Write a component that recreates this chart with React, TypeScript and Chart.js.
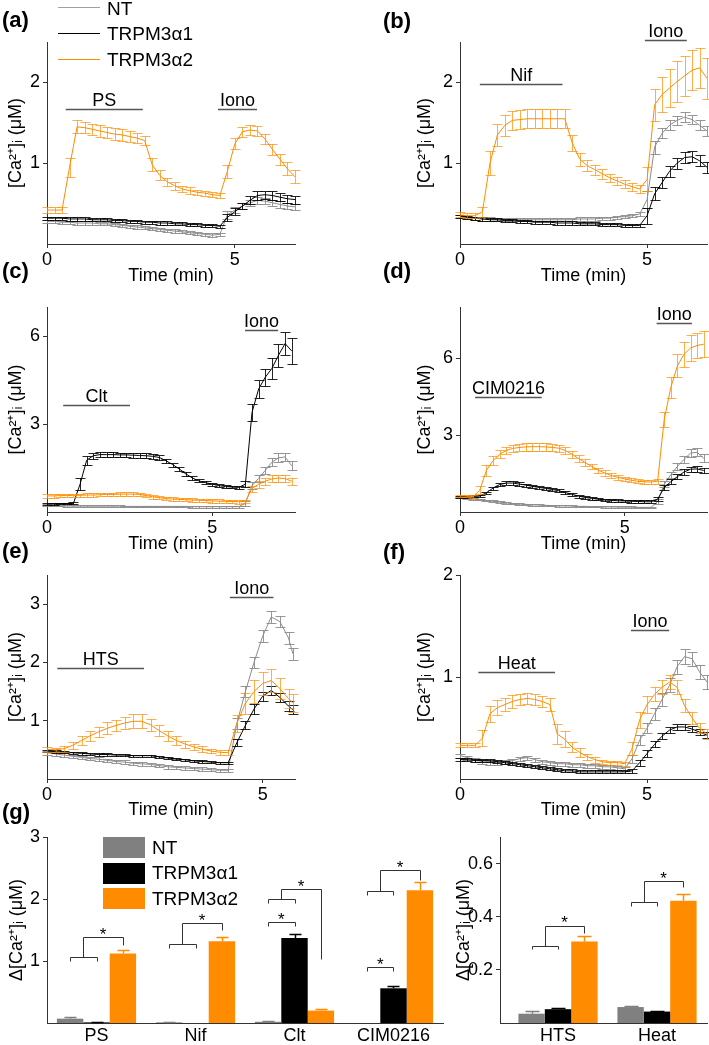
import React, { useEffect, useRef } from "react";
import { Chart, registerables } from "chart.js";

Chart.register(...registerables);

const FONT = '"Liberation Sans", Arial, Helvetica, sans-serif';
const SERIES = ["NT", "TRPM3α1", "TRPM3α2"];
const CA_LABEL = "[Ca²⁺]ᵢ (μM)";
const DCA_LABEL = "Δ[Ca²⁺]ᵢ (μM)";
const TIME_LABEL = "Time (min)";

// ---------- time grids (min) ----------
const T66 = [0,0.2,0.4,0.6,0.8,1,1.2,1.4,1.6,1.8,2,2.2,2.4,2.6,2.8,3,3.2,3.4,3.6,3.8,4,4.2,4.4,4.6,4.8,5,5.2,5.4,5.6,5.8,6,6.2,6.4,6.6];
const T74 = [0,0.2,0.4,0.6,0.8,1,1.2,1.4,1.6,1.8,2,2.2,2.4,2.6,2.8,3,3.2,3.4,3.6,3.8,4,4.2,4.4,4.6,4.8,5,5.2,5.4,5.6,5.8,6,6.2,6.4,6.6,6.8,7,7.2,7.4];
const T57 = [0,0.2,0.4,0.6,0.8,1,1.2,1.4,1.6,1.8,2,2.2,2.4,2.6,2.8,3,3.2,3.4,3.6,3.8,4,4.2,4.4,4.6,4.8,5,5.2,5.4,5.6,5.7];

// ---------- (a) PS ----------
const A_NT = [0.28,0.28,0.27,0.27,0.26,0.26,0.26,0.25,0.25,0.24,0.23,0.22,0.21,0.2,0.19,0.18,0.17,0.16,0.15,0.14,0.13,0.12,0.11,0.12,0.36,0.42,0.47,0.51,0.54,0.53,0.51,0.49,0.47,0.46];
const A_NT_E = [0.02,0.02,0.02,0.02,0.02,0.02,0.02,0.02,0.02,0.02,0.02,0.02,0.02,0.02,0.02,0.02,0.02,0.02,0.02,0.02,0.02,0.02,0.02,0.02,0.05,0.04,0.04,0.04,0.04,0.04,0.04,0.04,0.04,0.04];
const A_A1 = [0.32,0.32,0.32,0.31,0.31,0.31,0.3,0.3,0.3,0.29,0.29,0.28,0.28,0.27,0.27,0.26,0.26,0.25,0.25,0.24,0.24,0.23,0.23,0.22,0.33,0.4,0.47,0.54,0.6,0.61,0.6,0.58,0.56,0.55];
const A_A1_E = [0.02,0.02,0.02,0.02,0.02,0.02,0.02,0.02,0.02,0.02,0.02,0.02,0.02,0.02,0.02,0.02,0.02,0.02,0.02,0.02,0.02,0.02,0.02,0.02,0.04,0.04,0.04,0.05,0.05,0.05,0.05,0.05,0.05,0.05];
const A_A2 = [0.42,0.42,0.42,0.95,1.45,1.44,1.42,1.4,1.38,1.36,1.35,1.33,1.31,1.28,0.98,0.85,0.77,0.72,0.68,0.66,0.64,0.63,0.61,0.6,0.9,1.24,1.39,1.41,1.4,1.3,1.17,1.05,0.93,0.83];
const A_A2_E = [0.04,0.04,0.04,0.12,0.08,0.07,0.07,0.07,0.07,0.07,0.07,0.07,0.06,0.06,0.08,0.06,0.05,0.05,0.04,0.04,0.03,0.03,0.03,0.03,0.08,0.07,0.06,0.06,0.06,0.06,0.07,0.07,0.08,0.08];

// ---------- (b) Nif ----------
const B_NT = [0.34,0.33,0.32,0.31,0.31,0.3,0.3,0.3,0.3,0.3,0.3,0.3,0.3,0.3,0.3,0.3,0.31,0.31,0.31,0.32,0.32,0.33,0.34,0.35,0.37,0.55,1.2,1.37,1.47,1.53,1.57,1.54,1.47,1.4];
const B_NT_E = [0.02,0.02,0.02,0.02,0.02,0.02,0.02,0.02,0.02,0.02,0.02,0.02,0.02,0.02,0.02,0.02,0.02,0.02,0.02,0.02,0.02,0.02,0.02,0.02,0.02,0.1,0.08,0.06,0.06,0.06,0.06,0.06,0.06,0.06];
const B_A1 = [0.34,0.33,0.32,0.31,0.3,0.3,0.29,0.29,0.28,0.28,0.27,0.27,0.27,0.26,0.26,0.26,0.25,0.25,0.25,0.24,0.24,0.24,0.23,0.23,0.23,0.35,0.62,0.76,0.9,1.0,1.07,1.08,1.03,0.95];
const B_A1_E = [0.02,0.02,0.02,0.02,0.02,0.02,0.02,0.02,0.02,0.02,0.02,0.02,0.02,0.02,0.02,0.02,0.02,0.02,0.02,0.02,0.02,0.02,0.02,0.02,0.02,0.1,0.08,0.07,0.07,0.07,0.07,0.07,0.07,0.07];
const B_A2 = [0.36,0.35,0.35,0.4,1.0,1.35,1.47,1.53,1.54,1.55,1.55,1.55,1.55,1.55,1.55,1.25,1.05,0.97,0.92,0.87,0.82,0.78,0.74,0.71,0.68,0.8,1.72,1.85,1.93,2.01,2.08,2.15,2.18,2.05];
const B_A2_E = [0.03,0.03,0.03,0.06,0.15,0.14,0.13,0.12,0.12,0.12,0.12,0.12,0.12,0.12,0.12,0.1,0.08,0.07,0.06,0.06,0.05,0.05,0.05,0.05,0.05,0.15,0.2,0.22,0.24,0.25,0.25,0.25,0.25,0.25];

// ---------- (c) Clt ----------
const C_NT = [0.24,0.23,0.22,0.21,0.2,0.2,0.2,0.2,0.2,0.2,0.2,0.2,0.19,0.19,0.19,0.19,0.19,0.19,0.19,0.19,0.19,0.19,0.18,0.18,0.18,0.18,0.18,0.18,0.18,0.18,0.3,0.9,1.15,1.42,1.7,1.85,1.88,1.58];
const C_NT_E = [0.03,0.03,0.03,0.03,0.03,0.03,0.03,0.03,0.03,0.03,0.03,0.03,0.03,0.03,0.03,0.03,0.03,0.03,0.03,0.03,0.03,0.03,0.03,0.03,0.03,0.03,0.03,0.03,0.03,0.03,0.08,0.12,0.12,0.13,0.14,0.15,0.15,0.15];
const C_A1 = [0.27,0.28,0.29,0.29,0.3,0.95,1.77,1.92,1.96,1.96,1.96,1.95,1.95,1.94,1.93,1.92,1.9,1.86,1.75,1.62,1.47,1.3,1.16,1.06,1.0,0.95,0.9,0.87,0.85,0.84,0.95,3.4,4.2,4.6,4.9,5.35,5.75,5.5];
const C_A1_E = [0.03,0.03,0.03,0.03,0.04,0.2,0.15,0.1,0.08,0.08,0.08,0.08,0.08,0.08,0.08,0.08,0.08,0.08,0.07,0.07,0.07,0.06,0.06,0.05,0.05,0.05,0.04,0.04,0.04,0.04,0.1,0.3,0.3,0.3,0.35,0.4,0.4,0.45];
const C_A2 = [0.55,0.55,0.56,0.56,0.57,0.57,0.58,0.58,0.59,0.6,0.6,0.61,0.61,0.61,0.6,0.56,0.52,0.49,0.46,0.44,0.43,0.42,0.41,0.4,0.39,0.38,0.37,0.36,0.36,0.35,0.36,0.8,0.95,1.05,1.13,1.16,1.14,1.05];
const C_A2_E = [0.06,0.06,0.06,0.06,0.06,0.06,0.06,0.06,0.06,0.06,0.06,0.06,0.06,0.06,0.06,0.06,0.06,0.06,0.06,0.06,0.06,0.06,0.06,0.06,0.06,0.06,0.06,0.06,0.06,0.06,0.06,0.1,0.12,0.12,0.12,0.12,0.12,0.12];

// ---------- (d) CIM0216 ----------
const D_NT = [0.56,0.54,0.51,0.48,0.45,0.42,0.39,0.36,0.33,0.31,0.3,0.28,0.27,0.26,0.25,0.24,0.24,0.23,0.22,0.22,0.21,0.21,0.2,0.2,0.19,0.19,0.19,0.18,0.18,0.18,0.4,1.08,1.45,1.78,2.05,2.3,2.33,2.1];
const D_NT_E = [0.03,0.03,0.03,0.03,0.03,0.03,0.03,0.03,0.03,0.03,0.03,0.03,0.03,0.03,0.03,0.03,0.03,0.03,0.03,0.03,0.03,0.03,0.03,0.03,0.03,0.03,0.03,0.03,0.03,0.03,0.1,0.12,0.12,0.13,0.14,0.15,0.15,0.15];
const D_A1 = [0.6,0.6,0.61,0.62,0.75,0.93,1.07,1.13,1.13,1.09,1.05,1.0,0.96,0.92,0.88,0.83,0.76,0.69,0.62,0.57,0.53,0.5,0.47,0.45,0.44,0.43,0.42,0.41,0.4,0.4,0.5,0.95,1.18,1.38,1.56,1.67,1.68,1.62];
const D_A1_E = [0.04,0.04,0.04,0.04,0.04,0.06,0.07,0.07,0.07,0.07,0.06,0.06,0.06,0.06,0.06,0.06,0.06,0.06,0.06,0.06,0.05,0.05,0.05,0.05,0.05,0.05,0.05,0.05,0.05,0.05,0.08,0.1,0.1,0.1,0.1,0.1,0.1,0.1];
const D_A2 = [0.63,0.62,0.6,0.85,1.62,2.0,2.25,2.4,2.48,2.52,2.54,2.55,2.55,2.54,2.52,2.49,2.4,2.25,2.09,1.93,1.78,1.63,1.52,1.42,1.35,1.29,1.24,1.2,1.18,1.17,1.2,3.6,4.85,5.7,6.15,6.4,6.5,6.55];
const D_A2_E = [0.05,0.05,0.05,0.15,0.2,0.18,0.16,0.15,0.15,0.15,0.15,0.15,0.15,0.15,0.15,0.14,0.14,0.13,0.12,0.12,0.11,0.1,0.1,0.09,0.09,0.08,0.08,0.08,0.08,0.08,0.1,0.3,0.4,0.45,0.5,0.5,0.5,0.5];

// ---------- (e) HTS ----------
const E_NT = [0.45,0.43,0.41,0.39,0.37,0.35,0.34,0.32,0.3,0.29,0.27,0.26,0.25,0.23,0.21,0.2,0.19,0.18,0.17,0.16,0.15,0.15,0.95,1.5,2.0,2.45,2.78,2.7,2.42,2.15];
const E_NT_E = [0.03,0.03,0.03,0.03,0.03,0.03,0.03,0.03,0.03,0.03,0.03,0.03,0.03,0.03,0.03,0.03,0.03,0.03,0.03,0.03,0.03,0.03,0.1,0.1,0.1,0.1,0.1,0.1,0.1,0.1];
const E_A1 = [0.48,0.47,0.46,0.45,0.44,0.43,0.42,0.42,0.41,0.41,0.4,0.4,0.4,0.38,0.36,0.34,0.33,0.31,0.3,0.29,0.28,0.28,0.62,0.92,1.2,1.42,1.52,1.4,1.25,1.19];
const E_A1_E = [0.02,0.02,0.02,0.02,0.02,0.02,0.02,0.02,0.02,0.02,0.02,0.02,0.02,0.02,0.02,0.02,0.02,0.02,0.02,0.02,0.02,0.02,0.06,0.07,0.08,0.08,0.08,0.08,0.08,0.08];
const E_A2 = [0.51,0.5,0.52,0.58,0.66,0.74,0.81,0.87,0.92,0.96,0.99,0.99,0.93,0.83,0.74,0.66,0.6,0.55,0.51,0.48,0.46,0.45,0.95,1.3,1.5,1.64,1.69,1.55,1.38,1.3];
const E_A2_E = [0.04,0.04,0.05,0.06,0.07,0.08,0.09,0.1,0.1,0.11,0.12,0.12,0.1,0.09,0.08,0.07,0.06,0.05,0.05,0.04,0.04,0.04,0.15,0.18,0.2,0.2,0.2,0.18,0.16,0.15];

// ---------- (f) Heat ----------
const F_NT = [0.23,0.21,0.19,0.17,0.16,0.16,0.17,0.18,0.2,0.21,0.19,0.17,0.16,0.15,0.15,0.14,0.14,0.13,0.13,0.12,0.12,0.11,0.1,0.2,0.38,0.5,0.64,0.78,0.92,1.1,1.2,1.18,1.05,0.95];
const F_NT_E = [0.02,0.02,0.02,0.02,0.02,0.02,0.02,0.02,0.02,0.02,0.02,0.02,0.02,0.02,0.02,0.02,0.02,0.02,0.02,0.02,0.02,0.02,0.02,0.04,0.05,0.05,0.06,0.06,0.07,0.07,0.07,0.07,0.07,0.07];
const F_A1 = [0.19,0.19,0.18,0.18,0.18,0.17,0.16,0.15,0.14,0.13,0.12,0.11,0.1,0.09,0.08,0.08,0.07,0.07,0.07,0.07,0.07,0.07,0.07,0.08,0.16,0.25,0.34,0.42,0.48,0.51,0.51,0.49,0.46,0.43];
const F_A1_E = [0.015,0.015,0.015,0.015,0.015,0.015,0.015,0.015,0.015,0.015,0.015,0.015,0.015,0.015,0.015,0.015,0.015,0.015,0.015,0.015,0.015,0.015,0.015,0.02,0.03,0.03,0.03,0.03,0.03,0.03,0.03,0.03,0.03,0.03];
const F_A2 = [0.33,0.33,0.33,0.4,0.64,0.7,0.73,0.76,0.78,0.79,0.78,0.76,0.73,0.44,0.39,0.31,0.26,0.22,0.19,0.17,0.16,0.16,0.15,0.3,0.58,0.73,0.83,0.9,0.95,0.9,0.72,0.6,0.5,0.44];
const F_A2_E = [0.02,0.02,0.02,0.08,0.08,0.07,0.06,0.06,0.05,0.05,0.05,0.05,0.06,0.1,0.08,0.05,0.04,0.03,0.03,0.02,0.02,0.02,0.02,0.06,0.08,0.08,0.07,0.07,0.07,0.07,0.06,0.06,0.05,0.05];

// ---------- stimulus bars (min, µM) ----------
const STIM_A = [{ label: "PS", t0: 0.5, t1: 2.55, y: 1.67 }, { label: "Iono", t0: 4.55, t1: 5.59, y: 1.67 }];
const STIM_B = [{ label: "Nif", t0: 0.53, t1: 2.74, y: 1.98 }, { label: "Iono", t0: 4.94, t1: 6.06, y: 2.52 }];
const STIM_C = [{ label: "Clt", t0: 0.49, t1: 2.51, y: 3.65 }, { label: "Iono", t0: 5.99, t1: 6.99, y: 6.21 }];
const STIM_D = [{ label: "CIM0216", t0: 0.46, t1: 2.48, y: 4.5 }, { label: "Iono", t0: 5.97, t1: 7.04, y: 7.37 }];
const STIM_E = [{ label: "HTS", t0: 0.24, t1: 2.25, y: 1.91 }, { label: "Iono", t0: 4.24, t1: 5.25, y: 3.12 }];
const STIM_F = [{ label: "Heat", t0: 0.49, t1: 2.54, y: 1.05 }, { label: "Iono", t0: 4.57, t1: 5.59, y: 1.46 }];

// ---------- axis ranges / ticks ----------
const X_TICKS = [0, 5];
const Y_TICKS_AB = [1, 2];
const Y_TICKS_CD = [3, 6];
const Y_TICKS_E = [1, 2, 3];
const Y_TICKS_F = [1, 2];

// ---------- (g) bar data ----------
const BAR1_CATS = ["PS", "Nif", "Clt", "CIM0216"];
const BAR1_NT = [0.07, 0.01, 0.02, 0.0];
const BAR1_NT_E = [0.03, 0.005, 0.01, 0];
const BAR1_A1 = [0.01, 0.0, 1.37, 0.56];
const BAR1_A1_E = [0.005, 0, 0.07, 0.04];
const BAR1_A2 = [1.12, 1.32, 0.2, 2.14];
const BAR1_A2_E = [0.06, 0.07, 0.02, 0.13];
const BAR1_TICKS = [1, 2, 3];

const BAR2_CATS = ["HTS", "Heat"];
const BAR2_NT = [0.035, 0.06];
const BAR2_NT_E = [0.012, 0.005];
const BAR2_A1 = [0.052, 0.043];
const BAR2_A1_E = [0.004, 0.003];
const BAR2_A2 = [0.307, 0.46];
const BAR2_A2_E = [0.022, 0.026];
const BAR2_TICKS = [0.2, 0.4, 0.6];

// significance brackets: slot = bar position inside group (0 NT, 1 α1, 2 α2)
const BRACKETS1 = [
  { cat: 0, s1: 0, s2: 1, y: 1.06, y1: 1.0, y2: 1.0 },
  { cat: 0, s1: 0.5, s2: 2, y: 1.38, y1: 1.06, y2: 1.25 },
  { cat: 1, s1: 0, s2: 1, y: 1.27, y1: 1.21, y2: 1.21 },
  { cat: 1, s1: 0.5, s2: 2, y: 1.61, y1: 1.27, y2: 1.5 },
  { cat: 2, s1: 0, s2: 1, y: 1.63, y1: 1.57, y2: 1.57 },
  { cat: 2, s1: 0, s2: 1, y: 2.0, y1: 1.94, y2: 1.94 },
  { cat: 2, s1: 0.5, s2: 2, y: 2.16, y1: 2.0, y2: 1.04 },
  { cat: 3, s1: 0, s2: 1, y: 0.9, y1: 0.84, y2: 0.84 },
  { cat: 3, s1: 0, s2: 1, y: 2.13, y1: 2.07, y2: 2.07 },
  { cat: 3, s1: 0.5, s2: 2, y: 2.47, y1: 2.13, y2: 2.31 },
];
const STARS1 = [
  { cat: 0, slot: 1.25, y: 1.49 },
  { cat: 1, slot: 1.25, y: 1.71 },
  { cat: 2, slot: 0.5, y: 1.73 },
  { cat: 2, slot: 1.25, y: 2.26 },
  { cat: 3, slot: 0.5, y: 1.01 },
  { cat: 3, slot: 1.25, y: 2.57 },
];
const BRACKETS2 = [
  { cat: 0, s1: 0, s2: 1, y: 0.29, y1: 0.278, y2: 0.278 },
  { cat: 0, s1: 0.5, s2: 2, y: 0.366, y1: 0.29, y2: 0.337 },
  { cat: 1, s1: 0, s2: 1, y: 0.454, y1: 0.442, y2: 0.442 },
  { cat: 1, s1: 0.5, s2: 2, y: 0.533, y1: 0.454, y2: 0.51 },
];
const STARS2 = [
  { cat: 0, slot: 1.25, y: 0.392 },
  { cat: 1, slot: 1.25, y: 0.558 },
];

// ---------- styles ----------
const TRACE_COLORS = ["#8c8c8c", "#000000", "#ff8c00"];
const ERR_COLORS = ["rgba(140,140,140,0.9)", "rgba(0,0,0,0.85)", "rgba(255,140,0,0.7)"];
const BAR_COLORS = ["#808080", "#000000", "#ff8c00"];
const AXIS = "#333333";

const GEO: any = {
  a: { l: 5, t: 0, w: 335, h: 287, yw: 42, xh: 43, padT: 42, padR: 45 },
  b: { l: 414, t: 0, w: 295, h: 287, yw: 46, xh: 43, padT: 42, padR: 2 },
  c: { l: 5, t: 290, w: 335, h: 265, yw: 42, xh: 43, padT: 17, padR: 45 },
  d: { l: 414, t: 290, w: 295, h: 265, yw: 46, xh: 43, padT: 17, padR: 2 },
  e: { l: 5, t: 556, w: 335, h: 265, yw: 42, xh: 42, padT: 19, padR: 45 },
  f: { l: 414, t: 556, w: 295, h: 265, yw: 46, xh: 42, padT: 19, padR: 2 },
  g1: { l: 6, t: 820, w: 444, h: 225, yw: 41, xh: 22, padT: 17, padR: 7 },
  g2: { l: 453, t: 820, w: 256, h: 225, yw: 47, xh: 22, padT: 17, padR: 2 },
};

const PANELS = [
  { key: "a", t: T66, xMax: 6.6, yMax: 2.5, yTicks: Y_TICKS_AB, stims: STIM_A,
    series: [{ v: A_NT, e: A_NT_E }, { v: A_A1, e: A_A1_E }, { v: A_A2, e: A_A2_E }] },
  { key: "b", t: T66, xMax: 6.6, yMax: 2.5, yTicks: Y_TICKS_AB, stims: STIM_B,
    series: [{ v: B_NT, e: B_NT_E }, { v: B_A1, e: B_A1_E }, { v: B_A2, e: B_A2_E }] },
  { key: "c", t: T74, xMax: 7.5, yMax: 7, yTicks: Y_TICKS_CD, stims: STIM_C,
    series: [{ v: C_NT, e: C_NT_E }, { v: C_A1, e: C_A1_E }, { v: C_A2, e: C_A2_E }] },
  { key: "d", t: T74, xMax: 7.5, yMax: 8, yTicks: Y_TICKS_CD, stims: STIM_D,
    series: [{ v: D_NT, e: D_NT_E }, { v: D_A1, e: D_A1_E }, { v: D_A2, e: D_A2_E }] },
  { key: "e", t: T57, xMax: 5.75, yMax: 3.5, yTicks: Y_TICKS_E, stims: STIM_E,
    series: [{ v: E_NT, e: E_NT_E }, { v: E_A1, e: E_A1_E }, { v: E_A2, e: E_A2_E }] },
  { key: "f", t: T66, xMax: 6.6, yMax: 2, yTicks: Y_TICKS_F, stims: STIM_F,
    series: [{ v: F_NT, e: F_NT_E }, { v: F_A1, e: F_A1_E }, { v: F_A2, e: F_A2_E }] },
];

// ---------- plugins ----------
const traceErrPlugin = {
  id: "traceErrors",
  beforeDatasetDraw(chart: any, args: any, opts: any) {
    const ds = chart.data.datasets[args.index];
    if (!ds.errors) return;
    const xs = chart.scales.x, ys = chart.scales.y, ctx = chart.ctx;
    const cap = opts.cap ?? 5;
    ctx.save();
    ctx.strokeStyle = ds.errorColor || ds.borderColor;
    ctx.lineWidth = 1;
    ctx.beginPath();
    ds.data.forEach((p: any, i: number) => {
      const e = ds.errors[i];
      const x = Math.round(xs.getPixelForValue(p.x)) + 0.5;
      const yHi = Math.round(ys.getPixelForValue(p.y + e)) + 0.5;
      const yLo = Math.round(ys.getPixelForValue(p.y - e)) + 0.5;
      ctx.moveTo(x, yHi); ctx.lineTo(x, yLo);
      ctx.moveTo(x - cap, yHi); ctx.lineTo(x + cap, yHi);
      ctx.moveTo(x - cap, yLo); ctx.lineTo(x + cap, yLo);
    });
    ctx.stroke();
    ctx.restore();
  },
};

const stimPlugin = {
  id: "stimBars",
  afterDraw(chart: any, _args: any, opts: any) {
    const items = opts.items || [];
    const xs = chart.scales.x, ys = chart.scales.y, ctx = chart.ctx;
    ctx.save();
    items.forEach((s: any) => {
      const x1 = xs.getPixelForValue(s.t0), x2 = xs.getPixelForValue(s.t1);
      const y = Math.round(ys.getPixelForValue(s.y)) + 0.5;
      ctx.strokeStyle = "#555";
      ctx.lineWidth = 1.3;
      ctx.beginPath(); ctx.moveTo(x1, y); ctx.lineTo(x2, y); ctx.stroke();
      ctx.fillStyle = "#000";
      ctx.font = `18px ${FONT}`;
      ctx.textAlign = "center";
      ctx.textBaseline = "alphabetic";
      ctx.fillText(s.label, (x1 + x2) / 2, y - 4);
    });
    ctx.restore();
  },
};

const barErrPlugin = {
  id: "barErrors",
  afterDatasetsDraw(chart: any, _args: any, opts: any) {
    const ys = chart.scales.y, ctx = chart.ctx;
    const half = opts.capHalf ?? 6;
    ctx.save();
    chart.data.datasets.forEach((ds: any, di: number) => {
      const meta = chart.getDatasetMeta(di);
      meta.data.forEach((el: any, i: number) => {
        const e = ds.errors[i];
        if (!e) return;
        const d = ds.data[i];
        const v = typeof d === "number" ? d : d.y;
        const x = Math.round(el.x) + 0.5;
        const y1 = Math.round(ys.getPixelForValue(v + e)) + 0.5;
        ctx.strokeStyle = ds.backgroundColor;
        ctx.lineWidth = 1.5;
        ctx.beginPath();
        ctx.moveTo(x, el.y); ctx.lineTo(x, y1);
        ctx.moveTo(x - half, y1); ctx.lineTo(x + half, y1);
        ctx.stroke();
      });
    });
    ctx.restore();
  },
};

const bracketPlugin = {
  id: "brackets",
  afterDatasetsDraw(chart: any, _args: any, opts: any) {
    const ys = chart.scales.y, ctx = chart.ctx;
    const m0 = chart.getDatasetMeta(0).data, m1 = chart.getDatasetMeta(1).data;
    const px = (c: number, s: number) => m0[c].x + s * (m1[c].x - m0[c].x);
    const py = (v: number) => Math.round(ys.getPixelForValue(v)) + 0.5;
    ctx.save();
    ctx.strokeStyle = "#333";
    ctx.lineWidth = 1;
    ctx.beginPath();
    (opts.items || []).forEach((b: any) => {
      const x1 = Math.round(px(b.cat, b.s1)) + 0.5, x2 = Math.round(px(b.cat, b.s2)) + 0.5;
      const y = py(b.y);
      ctx.moveTo(x1, py(b.y1)); ctx.lineTo(x1, y); ctx.lineTo(x2, y); ctx.lineTo(x2, py(b.y2));
    });
    ctx.stroke();
    ctx.fillStyle = "#000";
    ctx.font = `17px ${FONT}`;
    ctx.textAlign = "center";
    ctx.textBaseline = "alphabetic";
    (opts.stars || []).forEach((s: any) => {
      ctx.fillText("*", px(s.cat, s.slot), ys.getPixelForValue(s.y) + 9.5);
    });
    ctx.restore();
  },
};

const tickFont = { family: FONT, size: 18 };
const titleFont = { family: FONT, size: 18 };

function axisCommon(extra: any) {
  return {
    grid: { display: true, drawOnChartArea: false, drawTicks: true, tickLength: 4, color: AXIS },
    border: { display: true, color: AXIS, width: 1 },
    ...extra,
  };
}

function traceConfig(p: any, g: any) {
  return {
    type: "line",
    data: {
      datasets: p.series.map((s: any, k: number) => ({
        label: SERIES[k],
        data: p.t.map((t: number, i: number) => ({ x: t, y: s.v[i] })),
        errors: s.e,
        errorColor: ERR_COLORS[k],
        borderColor: TRACE_COLORS[k],
        borderWidth: 1,
        pointRadius: 0,
        tension: 0,
        order: 2 - k,
      })),
    },
    options: {
      responsive: false,
      animation: false,
      devicePixelRatio: 1,
      events: [],
      layout: { padding: { left: 0, right: g.padR, top: g.padT, bottom: 0 } },
      plugins: {
        legend: { display: false },
        tooltip: { enabled: false },
        stimBars: { items: p.stims },
        traceErrors: { cap: 5 },
      },
      scales: {
        x: axisCommon({
          type: "linear",
          min: 0,
          max: p.xMax,
          afterBuildTicks: (s: any) => { s.ticks = X_TICKS.map((v) => ({ value: v })); },
          afterFit: (s: any) => { s.height = g.xh; },
          ticks: { font: tickFont, color: "#000", padding: 1, maxRotation: 0, autoSkip: false, callback: (v: any) => String(v) },
          title: { display: true, text: TIME_LABEL, font: titleFont, color: "#000", padding: 0 },
        }),
        y: axisCommon({
          type: "linear",
          min: 0,
          max: p.yMax,
          afterBuildTicks: (s: any) => { s.ticks = p.yTicks.map((v: number) => ({ value: v })); },
          afterFit: (s: any) => { s.width = g.yw; },
          ticks: { font: tickFont, color: "#000", padding: 3, autoSkip: false, callback: (v: any) => String(v) },
          title: { display: true, text: CA_LABEL, font: titleFont, color: "#000", padding: 0 },
        }),
      },
    },
    plugins: [traceErrPlugin, stimPlugin],
  };
}

function barConfig(opts: {
  g: any; cats: string[]; vals: number[][]; errs: number[][]; yMax: number; yTicks: number[];
  linearX?: { min: number; max: number }; brackets: any[]; stars: any[]; capHalf: number;
}) {
  const { g, cats, vals, errs, yMax, yTicks, linearX, brackets, stars, capHalf } = opts;
  const xScale: any = linearX
    ? {
        type: "linear",
        offset: false,
        min: linearX.min,
        max: linearX.max,
        afterBuildTicks: (s: any) => { s.ticks = cats.map((_c, i) => ({ value: i })); },
        ticks: { font: tickFont, color: "#000", padding: 2, maxRotation: 0, autoSkip: false, callback: (v: any) => cats[v] },
      }
    : {
        type: "category",
        offset: true,
        ticks: { font: tickFont, color: "#000", padding: 2, maxRotation: 0, autoSkip: false },
      };
  return {
    type: "bar",
    data: {
      labels: linearX ? undefined : cats,
      datasets: vals.map((v, k) => ({
        label: SERIES[k],
        data: linearX ? v.map((y, i) => ({ x: i, y })) : v,
        errors: errs[k],
        backgroundColor: BAR_COLORS[k],
        borderWidth: 0,
        categoryPercentage: 0.8,
        barPercentage: 1.0,
      })),
    },
    options: {
      responsive: false,
      animation: false,
      devicePixelRatio: 1,
      events: [],
      layout: { padding: { left: 0, right: g.padR, top: g.padT, bottom: 0 } },
      plugins: {
        legend: { display: false },
        tooltip: { enabled: false },
        barErrors: { capHalf },
        brackets: { items: brackets, stars },
      },
      scales: {
        x: {
          ...xScale,
          grid: { display: false, drawTicks: false },
          border: { display: true, color: AXIS, width: 1 },
          afterFit: (s: any) => { s.height = g.xh; },
        },
        y: axisCommon({
          type: "linear",
          min: 0,
          max: yMax,
          afterBuildTicks: (s: any) => { s.ticks = yTicks.map((v) => ({ value: v })); },
          afterFit: (s: any) => { s.width = g.yw; },
          ticks: { font: tickFont, color: "#000", padding: 3, autoSkip: false, callback: (v: any) => String(v) },
          title: { display: true, text: DCA_LABEL, font: titleFont, color: "#000", padding: 0 },
        }),
      },
    },
    plugins: [barErrPlugin, bracketPlugin],
  };
}

function ChartBox({ g, make }: { g: any; make: () => any }) {
  const ref = useRef<HTMLCanvasElement>(null);
  useEffect(() => {
    const chart = new Chart(ref.current as HTMLCanvasElement, make());
    return () => chart.destroy();
  }, []);
  return (
    <canvas
      ref={ref}
      width={g.w}
      height={g.h}
      style={{ position: "absolute", left: g.l, top: g.t, width: g.w, height: g.h }}
    />
  );
}

const PANEL_LABELS = [
  { text: "(a)", l: 2, t: 8 },
  { text: "(b)", l: 383, t: 9 },
  { text: "(c)", l: 2, t: 259 },
  { text: "(d)", l: 383, t: 259 },
  { text: "(e)", l: 2, t: 539 },
  { text: "(f)", l: 383, t: 540 },
  { text: "(g)", l: 2, t: 800 },
];

const TOP_LEGEND = [
  { color: "#a0a0a0", lineY: 7, textTop: -1 },
  { color: "#000000", lineY: 33, textTop: 24 },
  { color: "#ff8c00", lineY: 59, textTop: 50 },
];

const BAR_LEGEND = [
  { color: BAR_COLORS[0], top: 837, textTop: 838 },
  { color: BAR_COLORS[1], top: 863, textTop: 863 },
  { color: BAR_COLORS[2], top: 888, textTop: 889 },
];

const txt = (extra: any) => ({
  position: "absolute" as const,
  fontFamily: FONT,
  color: "#000",
  whiteSpace: "nowrap" as const,
  ...extra,
});

export default function App() {
  return (
    <div style={{ position: "absolute", left: 0, top: 0, width: 709, height: 1045, background: "#fff", overflow: "hidden" }}>
      {PANELS.map((p) => (
        <ChartBox key={p.key} g={GEO[p.key]} make={() => traceConfig(p, GEO[p.key])} />
      ))}
      <ChartBox
        g={GEO.g1}
        make={() =>
          barConfig({
            g: GEO.g1,
            cats: BAR1_CATS,
            vals: [BAR1_NT, BAR1_A1, BAR1_A2],
            errs: [BAR1_NT_E, BAR1_A1_E, BAR1_A2_E],
            yMax: 3,
            yTicks: BAR1_TICKS,
            brackets: BRACKETS1,
            stars: STARS1,
            capHalf: 6,
          })
        }
      />
      <ChartBox
        g={GEO.g2}
        make={() =>
          barConfig({
            g: GEO.g2,
            cats: BAR2_CATS,
            vals: [BAR2_NT, BAR2_A1, BAR2_A2],
            errs: [BAR2_NT_E, BAR2_A1_E, BAR2_A2_E],
            yMax: 0.7,
            yTicks: BAR2_TICKS,
            linearX: { min: -0.586, max: 1.505 },
            brackets: BRACKETS2,
            stars: STARS2,
            capHalf: 7,
          })
        }
      />
      {PANEL_LABELS.map((p) => (
        <div key={p.text} style={txt({ left: p.l, top: p.t, fontSize: 22, lineHeight: "24px", fontWeight: "bold" })}>
          {p.text}
        </div>
      ))}
      {TOP_LEGEND.map((it, i) => (
        <React.Fragment key={"tl" + i}>
          <div style={{ position: "absolute", left: 58, top: it.lineY, width: 42, height: 0, borderTop: `1.5px solid ${it.color}` }} />
          <div style={txt({ left: 107, top: it.textTop, fontSize: 19, lineHeight: "20px" })}>{SERIES[i]}</div>
        </React.Fragment>
      ))}
      {BAR_LEGEND.map((it, i) => (
        <React.Fragment key={"bl" + i}>
          <div style={{ position: "absolute", left: 103, top: it.top, width: 42, height: 21, background: it.color }} />
          <div style={txt({ left: 152, top: it.textTop, fontSize: 19, lineHeight: "20px" })}>{SERIES[i]}</div>
        </React.Fragment>
      ))}
    </div>
  );
}
